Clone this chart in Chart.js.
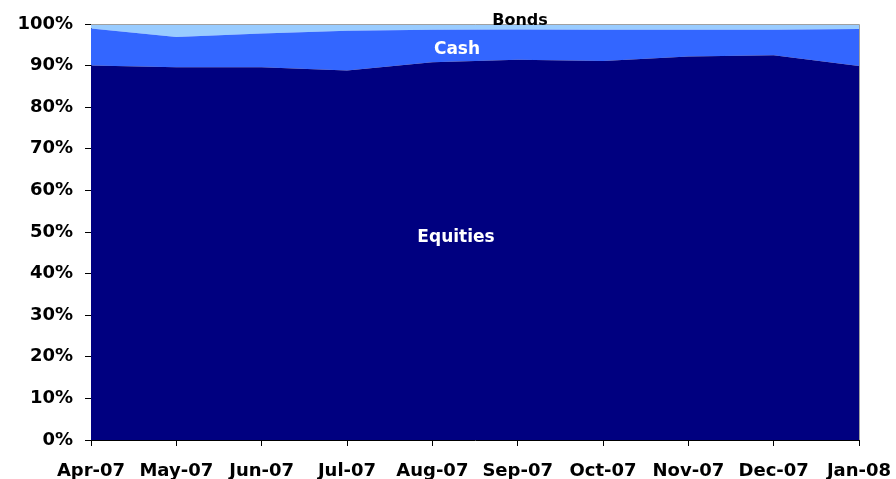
<!DOCTYPE html>
<html>
<head>
<meta charset="utf-8">
<script src="https://cdn.jsdelivr.net/npm/chart.js@4"></script>
<style>
  html, body { margin: 0; padding: 0; background: #fff; }
  #wrap { width: 896px; height: 479px; position: relative; }
</style>
</head>
<body>
<div id="wrap"><canvas id="allocChart" width="896" height="479"></canvas></div>
<script>
// asset allocation, % of portfolio
const months = ['Apr-07', 'May-07', 'Jun-07', 'Jul-07', 'Aug-07', 'Sep-07', 'Oct-07', 'Nov-07', 'Dec-07', 'Jan-08'];
const equities = [90.0, 89.6, 89.6, 88.8, 90.8, 91.4, 91.1, 92.2, 92.5, 89.9];
const cash = [8.9, 7.3, 8.1, 9.6, 7.8, 7.3, 7.5, 6.4, 6.1, 8.9];
const bonds = [1.1, 3.1, 2.3, 1.6, 1.4, 1.3, 1.4, 1.4, 1.4, 1.2];

const FONT = 'DejaVu Sans, Verdana, sans-serif';

// series labels drawn inside the areas + gray frame top/right
const areaLabels = {
    id: 'areaLabels',
    afterDatasetsDraw(chart) {
        const { ctx, chartArea } = chart;
        ctx.save();
        ctx.strokeStyle = '#a0a0a0';
        ctx.lineWidth = 1;
        ctx.beginPath();
        ctx.moveTo(chartArea.left, chartArea.top + 0.5);
        ctx.lineTo(chartArea.right + 0.5, chartArea.top + 0.5);
        ctx.lineTo(chartArea.right + 0.5, chartArea.bottom);
        ctx.stroke();

        ctx.font = 'bold 17px ' + FONT;
        ctx.textAlign = 'center';
        ctx.textBaseline = 'middle';
        ctx.fillStyle = '#ffffff';
        ctx.fillText('Equities', 456, 238);
        ctx.fillText('Cash', 457, 50);
        ctx.fillStyle = '#000000';
        ctx.font = 'bold 16px ' + FONT;
        ctx.fillText('Bonds', 520, 21);
        ctx.restore();
    }
};

const ctx = document.getElementById('allocChart').getContext('2d');
const chart = new Chart(ctx, {
    type: 'line',
    data: {
        labels: months,
        datasets: [
            { label: 'Equities', data: equities, backgroundColor: '#000080', borderColor: '#000080', fill: 'origin' },
            { label: 'Cash', data: cash, backgroundColor: '#3366FF', borderColor: '#3366FF', fill: '-1' },
            { label: 'Bonds', data: bonds, backgroundColor: '#99CCFF', borderColor: '#99CCFF', fill: '-1' }
        ]
    },
    options: {
        responsive: false,
        animation: false,
        layout: { padding: { top: 24, right: 37, left: 0, bottom: 0 } },
        elements: {
            point: { radius: 0 },
            line: { borderWidth: 0, tension: 0 }
        },
        plugins: {
            legend: { display: false },
            tooltip: { enabled: false }
        },
        scales: {
            x: {
                offset: false,
                grid: { display: true, drawOnChartArea: false, tickLength: 6, color: '#000' },
                border: { color: '#000', width: 1 },
                ticks: {
                    autoSkip: false, maxRotation: 0, padding: 15,
                    color: '#000', font: { family: FONT, size: 18, weight: 'bold' }
                },
                afterFit(scale) {
                    scale.height = 39;
                    scale.paddingLeft = 0;
                    scale.paddingRight = 0;
                }
            },
            y: {
                stacked: true,
                min: 0, max: 100,
                grid: { display: true, drawOnChartArea: false, tickLength: 6, color: '#000' },
                border: { color: '#000', width: 1 },
                ticks: {
                    stepSize: 10, padding: 12,
                    color: '#000', font: { family: FONT, size: 18, weight: 'bold' },
                    callback: v => v + '%'
                },
                afterFit(scale) {
                    scale.width = 91;
                    scale.paddingTop = 0;
                    scale.paddingBottom = 0;
                }
            }
        }
    },
    plugins: [areaLabels]
});
</script>
</body>
</html>
